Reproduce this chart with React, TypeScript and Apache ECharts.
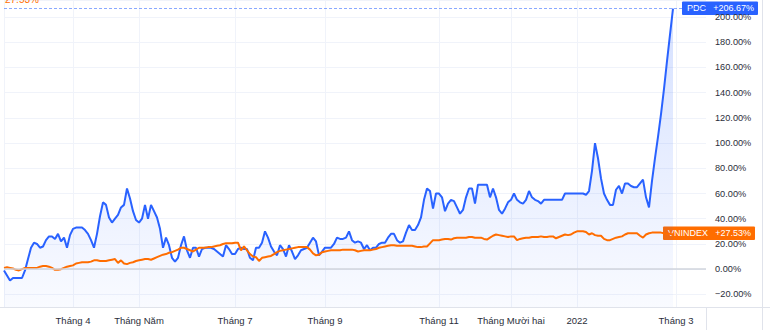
import React, { useEffect, useRef } from "react";
import * as echarts from "echarts";

// PDC cumulative % change (one value per trading-day slot)
const PDC: number[] = [
  -1, -5, -9, -7, -7, -7, -7, -1, 8, 17,
  21, 20, 17, 18, 23, 26, 26, 24, 28, 22,
  25, 17, 27, 32, 33, 33, 33, 31, 28, 23,
  17, 28, 42, 53, 51, 41, 37, 40, 43, 49,
  51, 64, 56, 46, 39, 37, 40, 51, 40, 51,
  46, 41, 32, 17, 25, 19, 9, 6, 9, 19,
  26, 15, 9, 17, 17, 10, 16, 17, 17, 17,
  16, 14, 12, 10, 19, 16, 12, 12, 16, 17,
  16, 16, 9, 7, 17, 17, 21, 30, 25, 18,
  14, 11, 19, 16, 10, 19, 14, 8, 11, 15,
  16, 17, 21, 25, 22, 11, 14, 17, 17, 17,
  20, 25, 24, 24, 25, 30, 23, 21, 22, 21,
  16, 19, 15, 17, 17, 20, 21, 21, 25, 28,
  28, 23, 21, 22, 29, 35, 31, 31, 35, 41,
  55, 64, 62, 48, 60, 60, 57, 46, 52, 55,
  54, 49, 44, 47, 57, 64, 64, 52, 67, 67,
  67, 67, 57, 64, 57, 47, 44, 48, 53, 55,
  60, 55, 53, 52, 55, 62, 57, 55, 54, 52,
  55, 55, 55, 55, 55, 55, 55, 60, 60, 60,
  60, 60, 60, 60, 59, 62, 78, 100, 88, 72,
  60, 55, 51, 51, 63, 66, 60, 68, 68, 66,
  65, 65, 68, 71, 57, 49, 70, 88, 105, 123,
  143, 165, 186, 206.67,
];

// VNINDEX cumulative % change
const VNINDEX: number[] = [
  1, 1.5, 1, 0.5, -0.5, -1, 0, 1, 1, 1,
  1, 1, 2, 2.5, 2.5, 2, 1, -0.5, -0.5, 0,
  1, 2, 2.5, 3, 4.5, 5, 5.5, 5.5, 5.5, 6,
  7, 7, 6.5, 6.5, 6.5, 7, 7.5, 8, 5, 7,
  4.5, 4, 5, 5.5, 6.5, 7, 7.5, 8, 8, 7.5,
  8.5, 9.5, 10.5, 11.5, 12, 13, 13.5, 14.5, 15.5, 17,
  17, 16, 15, 14, 15.5, 17, 17, 17, 17.5, 17.5,
  18, 18.5, 19, 20, 20.5, 20.5, 20.5, 21, 21, 15,
  18, 15, 12, 10, 9.5, 6.5, 9, 9.5, 10, 10.5,
  12, 13.5, 14.5, 15, 15.5, 16, 16.5, 17, 17.5, 17.5,
  17.5, 17.5, 15.5, 12.5, 11, 11.5, 13.5, 14, 14.5, 15,
  15, 15, 15, 15.5, 15.5, 15.5, 15.5, 15, 14, 14.5,
  15, 15, 15, 15.5, 16, 17, 17.5, 18, 18.5, 19,
  19, 18.5, 18.5, 18.5, 18.5, 18.5, 18.5, 18, 17.5, 17.5,
  18, 18, 20.5, 23, 23, 23, 23.5, 24, 24, 23.5,
  24.5, 25, 25, 25, 25, 25.5, 25.5, 25, 25, 25,
  24, 23.5, 25, 26.5, 27.5, 27, 26.5, 26, 25.5, 26,
  26, 23, 24, 24.5, 25, 25, 25.5, 25.5, 25.5, 26,
  25.5, 25.5, 26, 26, 24.5, 25.5, 26.5, 27.5, 27, 27.5,
  29, 30, 30, 30, 29.5, 27.5, 28.5, 27, 26.5, 26.5,
  24, 23, 23, 24, 25, 25.5, 26, 27.5, 28.5, 28.5,
  28.5, 28.5, 26.5, 25, 27.5, 28.5, 29, 29, 29, 29,
  28.5, 28, 28, 27.53,
];

// x-axis month labels and the slot they sit on
const MONTH_SLOTS = [23, 45, 77, 107, 145, 169, 191, 224];
const MONTH_LABELS = ["Tháng 4", "Tháng Năm", "Tháng 7", "Tháng 9", "Tháng 11", "Tháng Mười hai", "2022", "Tháng 3"];
const TOTAL_SLOTS = 235;

const BLUE = "#2962FF";
const ORANGE = "#FF6D00";
const FONT = "Liberation Sans";
const TEXT = "#2a2e39";

export default function App() {
  const ref = useRef<HTMLDivElement>(null);
  useEffect(() => {
    document.body.style.margin = "0";
    if (!ref.current) return;
    const chart = echarts.init(ref.current, undefined, { renderer: "svg" });
    const categories = Array.from({ length: TOTAL_SLOTS }, (_, i) => {
      const k = MONTH_SLOTS.indexOf(i);
      return k >= 0 ? MONTH_LABELS[k] : "";
    });
    const isMonth = (idx: number) => MONTH_SLOTS.indexOf(idx) >= 0;
    const pdcLast = PDC[PDC.length - 1];
    const vnLast = VNINDEX[VNINDEX.length - 1];
    const fmt = (v: number) => (v < 0 ? "\u2212" : "") + Math.abs(v).toFixed(2) + "%";

    chart.setOption({
      animation: false,
      grid: { left: 4, right: 64, top: 0, bottom: 23, containLabel: false },
      xAxis: {
        type: "category",
        data: categories,
        boundaryGap: false,
        axisLine: { show: false },
        axisTick: { show: false },
        axisLabel: {
          interval: (idx: number) => isMonth(idx),
          color: TEXT,
          fontFamily: FONT,
          fontSize: 9.5,
          margin: 8,
        },
        splitLine: {
          show: true,
          interval: (idx: number) => isMonth(idx),
          lineStyle: { color: "#f0f3fa", width: 1 },
        },
      },
      yAxis: {
        type: "value",
        position: "right",
        min: -30,
        max: 213.5,
        splitNumber: 12,
        axisLine: { show: false },
        axisTick: { show: false },
        axisLabel: {
          showMinLabel: false,
          showMaxLabel: false,
          color: TEXT,
          fontFamily: FONT,
          fontSize: 9.2,
          margin: 9,
          formatter: (v: number) => (Math.abs(v % 20) < 1e-6 ? fmt(v) : ""),
        },
        splitLine: { lineStyle: { color: "#f0f3fa", width: 1 } },
      },
      series: [
        {
          name: "PDC",
          type: "line",
          data: PDC,
          showSymbol: false,
          symbol: "none",
          lineStyle: { color: BLUE, width: 2 },
          areaStyle: {
            origin: "start",
            color: new echarts.graphic.LinearGradient(0, 0, 0, 1, [
              { offset: 0, color: "rgba(41,98,255,0.28)" },
              { offset: 1, color: "rgba(41,98,255,0.04)" },
            ]),
          },
          z: 2,
          markLine: {
            silent: true,
            symbol: "none",
            label: { show: false },
            lineStyle: { color: "rgba(41,98,255,0.55)", type: [3, 2], width: 1 },
            data: [{ yAxis: pdcLast }],
          },
        },
        {
          name: "VNINDEX",
          type: "line",
          data: VNINDEX,
          showSymbol: false,
          symbol: "none",
          lineStyle: { color: ORANGE, width: 2 },
          z: 3,
          markLine: {
            silent: true,
            symbol: "none",
            label: { show: false },
            lineStyle: { color: "#d1d4dc", type: "solid", width: 1.5 },
            data: [{ yAxis: 0 }],
          },
        },
      ],
    });

    const yPdc = chart.convertToPixel({ yAxisIndex: 0 }, pdcLast) as number;
    const yVn = chart.convertToPixel({ yAxisIndex: 0 }, vnLast) as number;
    const tag = (x: number, y: number, w: number, color: string, name: string, val: string) => ({
      type: "group",
      x,
      y: Math.round(y) - 7.5,
      z: 100,
      children: [
        { type: "rect", shape: { x: 0, y: 0, width: w, height: 13.5, r: 1 }, style: { fill: color } },
        {
          type: "text",
          x: 5,
          y: 6.5,
          style: { text: name, fill: "#fff", fontFamily: FONT, fontSize: 9, align: "left", verticalAlign: "middle" },
        },
        {
          type: "text",
          x: w - 4,
          y: 6.5,
          style: { text: val, fill: "#fff", fontFamily: FONT, fontSize: 9, align: "right", verticalAlign: "middle" },
        },
      ],
    });

    chart.setOption({
      graphic: [
        { type: "line", shape: { x1: 0, y1: 307.5, x2: 770, y2: 307.5 }, style: { stroke: "#e0e3eb", lineWidth: 1 } },
        { type: "line", shape: { x1: 706.5, y1: 307, x2: 706.5, y2: 330 }, style: { stroke: "#e0e3eb", lineWidth: 1 } },
        { type: "line", shape: { x1: 762.5, y1: 0, x2: 762.5, y2: 330 }, style: { stroke: "#e0e3eb", lineWidth: 1 } },
        { type: "line", shape: { x1: 4.5, y1: 0, x2: 4.5, y2: 307 }, style: { stroke: "#f0f3fa", lineWidth: 1 } },
        {
          type: "text",
          x: 5,
          y: 4,
          style: { text: vnLast.toFixed(2) + "%", fill: ORANGE, fontFamily: FONT, fontSize: 10, align: "left", verticalAlign: "bottom" },
        },
        tag(682, yPdc, 76, BLUE, "PDC", "+" + pdcLast.toFixed(2) + "%"),
        tag(663, yVn, 92, ORANGE, "VNINDEX", "+" + vnLast.toFixed(2) + "%"),
      ],
    });

    return () => chart.dispose();
  }, []);
  return <div ref={ref} style={{ width: 770, height: 330 }} />;
}
